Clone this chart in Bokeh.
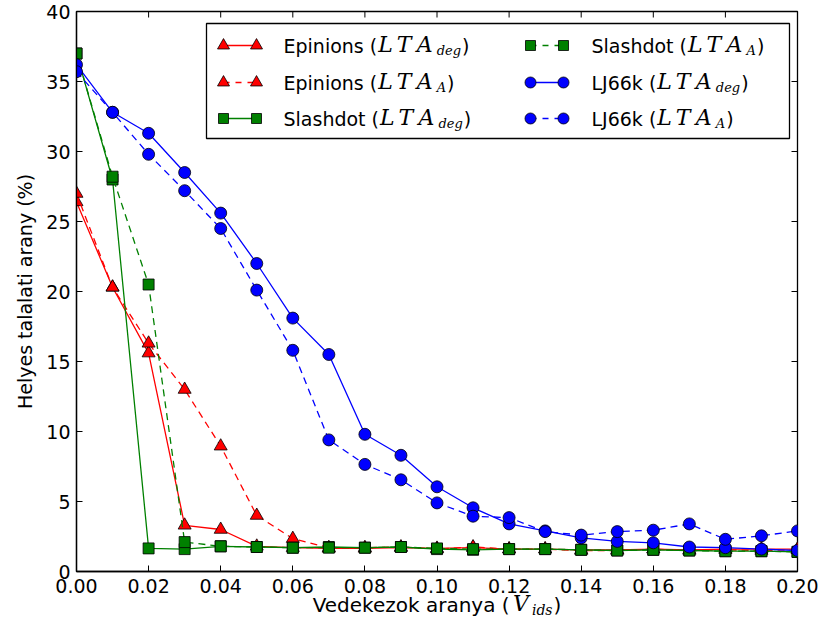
from bokeh.plotting import figure
from bokeh.models import FixedTicker, PrintfTickFormatter, Range1d
from bokeh.layouts import column
from bokeh.core.properties import value
from bokeh.embed import file_html
from bokeh.resources import INLINE

# ---- data -------------------------------------------------------------
ratio = [0.00, 0.01, 0.02, 0.03, 0.04, 0.05, 0.06, 0.07, 0.08, 0.09, 0.10,
         0.11, 0.12, 0.13, 0.14, 0.15, 0.16, 0.17, 0.18, 0.19, 0.20]

epinions_deg = [26.4, 20.3, 15.6, 3.3, 3.0, 1.8, 1.7, 1.65, 1.65, 1.7, 1.65,
                1.7, 1.6, 1.6, 1.55, 1.55, 1.6, 1.55, 1.6, 1.6, 1.6]
epinions_a = [27.0, 20.3, 16.3, 13.0, 8.95, 4.0, 2.35, 1.7, 1.7, 1.75, 1.6,
              1.75, 1.6, 1.6, 1.5, 1.5, 1.6, 1.5, 1.55, 1.5, 1.55]
slashdot_deg = [37.0, 28.0, 1.65, 1.6, 1.8, 1.75, 1.7, 1.75, 1.7, 1.75, 1.6,
                1.55, 1.6, 1.6, 1.55, 1.5, 1.55, 1.5, 1.45, 1.45, 1.4]
slashdot_a = [37.0, 28.2, 20.5, 2.1, 1.8, 1.75, 1.7, 1.7, 1.7, 1.75, 1.65,
              1.6, 1.6, 1.6, 1.55, 1.5, 1.55, 1.5, 1.45, 1.45, 1.4]
lj66k_deg = [36.2, 32.8, 31.3, 28.5, 25.6, 22.0, 18.1, 15.5, 9.8, 8.3, 6.05,
             4.55, 3.4, 2.9, 2.4, 2.15, 2.05, 1.75, 1.7, 1.6, 1.5]
lj66k_a = [35.7, 32.8, 29.8, 27.2, 24.5, 20.1, 15.8, 9.4, 7.65, 6.55, 4.9,
           3.95, 3.85, 2.85, 2.6, 2.85, 2.95, 3.4, 2.3, 2.55, 2.9]

x_ticks = [0.00, 0.02, 0.04, 0.06, 0.08, 0.10, 0.12, 0.14, 0.16, 0.18, 0.20]
y_ticks = [0, 5, 10, 15, 20, 25, 30, 35, 40]

series = [
    # name, math subscript, values, colour, marker, dashed
    ("Epinions", "deg", epinions_deg, "#ff0000", "triangle", False),
    ("Epinions", "A", epinions_a, "#ff0000", "triangle", True),
    ("Slashdot", "deg", slashdot_deg, "#008000", "square", False),
    ("Slashdot", "A", slashdot_a, "#008000", "square", True),
    ("LJ66k", "deg", lj66k_deg, "#0000ff", "circle", False),
    ("LJ66k", "A", lj66k_a, "#0000ff", "circle", True),
]

# ---- layout -----------------------------------------------------------
W = 825
PLOT_H = 601
LABEL_H, LABEL_OVERLAP = 51, 13         # title strip pulled up under the axis
LEFT, RIGHT, TOP, BOTTOM = 76, 28, 11, 30
FW, FH = W - LEFT - RIGHT, PLOT_H - TOP - BOTTOM
X0, X1, Y0, Y1 = 0.0, 0.2, 0.0, 40.0

FONT = "DejaVu Sans"
MATH = "DejaVu Serif"
FS = 19
DASH = "7 5"
LW = 1.3
TICK = 6
MARKER_SIZE = {"triangle": 13, "square": 11, "circle": 12}

# text run styles: (sans size, italic size, subscript size)
LEGEND_STYLE = (19, 22, 13)
XLABEL_STYLE = (20, 22, 14)
# advances of the italic capitals in the math runs, px
MATH_ADV = {"L": 18.5, "T": 20, "A": 22, "V": 21}

# approximate advance widths (em) used to lay out mixed text runs
SANS_W = {" ": .318, "(": .390, ")": .390, "E": .632, "p": .635, "i": .278,
          "n": .634, "o": .612, "s": .521, "S": .635, "l": .278, "a": .613,
          "h": .634, "d": .635, "t": .392, "L": .557, "J": .295, "6": .636,
          "k": .579, "V": .684, "e": .615, "z": .525, "r": .411, "y": .592}
SUB_W = {"d": .640, "e": .592, "g": .640, "i": .320, "s": .513, "A": .722}


def sans_width(s, size):
    return sum(SANS_W.get(c, .6) for c in s) * size


def sub_width(s, size):
    return sum(SUB_W.get(c, .6) for c in s) * size


def dx(px):
    return X0 + (px - LEFT) / FW * (X1 - X0)


def dy(py):
    return Y1 - (py - TOP) / FH * (Y1 - Y0)


def run_width(prefix, main, sub, style):
    fs, _, sfs = style
    return (sans_width(prefix, fs) + sum(MATH_ADV[c] for c in main)
            + sub_width(sub, sfs) + sans_width(")", fs))


def math_run(fig, fx, fy, x_px, y_px, prefix, main, sub, style):
    """Sans-serif prefix, italic capitals with an italic subscript, ')'."""
    fs, mfs, sfs = style
    pieces = []
    x = x_px
    pieces.append((x, 0, prefix, FONT, "normal", fs))
    x += sans_width(prefix, fs)
    for ch in main:
        pieces.append((x + 1, -1, ch, MATH, "italic", mfs))
        x += MATH_ADV[ch]
    pieces.append((x - 1, 5, sub, MATH, "italic", sfs))
    x += sub_width(sub, sfs)
    pieces.append((x, 0, ")", FONT, "normal", fs))
    for xp, shift, txt, font, style_, size in pieces:
        fig.text(x=[fx(xp)], y=[fy(y_px + shift)], text=[txt],
                 text_font=value(font), text_font_style=style_,
                 text_font_size=value(f"{size}px"), text_color="black",
                 text_baseline="middle", text_align="left")


# ---- main plot --------------------------------------------------------
p = figure(width=W, height=PLOT_H, x_range=Range1d(X0, X1),
           y_range=Range1d(Y0, Y1), output_backend="svg",
           toolbar_location=None,
           min_border_left=LEFT, min_border_right=RIGHT,
           min_border_top=TOP, min_border_bottom=BOTTOM)
p.grid.visible = False
p.background_fill_color = "white"
p.border_fill_color = "white"
p.outline_line_color = "black"
p.outline_line_width = LW

p.xaxis.ticker = FixedTicker(ticks=x_ticks)
p.xaxis.formatter = PrintfTickFormatter(format="%.2f")
p.yaxis.ticker = FixedTicker(ticks=y_ticks)
for ax in (p.xaxis[0], p.yaxis[0]):
    ax.major_tick_in = TICK
    ax.major_tick_out = 0
    ax.minor_tick_in = 0
    ax.minor_tick_out = 0
    ax.axis_line_color = "black"
    ax.axis_line_width = LW
    ax.major_tick_line_color = "black"
    ax.major_tick_line_width = 1
    ax.major_label_text_font = FONT
    ax.major_label_text_font_size = f"{FS}px"
    ax.major_label_text_color = "black"
p.xaxis.major_label_standoff = 7
p.yaxis.major_label_standoff = 6

p.yaxis.axis_label = "Helyes talalati arany (%)"
p.yaxis.axis_label_text_font = FONT
p.yaxis.axis_label_text_font_style = "normal"
p.yaxis.axis_label_text_font_size = f"{FS}px"
p.yaxis.axis_label_text_color = "black"
p.yaxis.axis_label_standoff = 7

# inward ticks mirrored on the top and right edges
tick_dy = TICK / FH * (Y1 - Y0)
tick_dx = TICK / FW * (X1 - X0)
p.segment(x0=x_ticks, y0=[Y1] * len(x_ticks), x1=x_ticks,
          y1=[Y1 - tick_dy] * len(x_ticks), line_color="black", line_width=1)
p.segment(x0=[X1] * len(y_ticks), y0=y_ticks, x1=[X1 - tick_dx] * len(y_ticks),
          y1=y_ticks, line_color="black", line_width=1)

# ---- data series ------------------------------------------------------
for name, sub, vals, color, marker, dashed in series:
    p.line(ratio, vals, line_color=color, line_width=LW,
           line_dash=DASH if dashed else "solid")
    p.scatter(ratio, vals, marker=marker, size=MARKER_SIZE[marker],
              fill_color=color, line_color="black", line_width=0.8)

# ---- legend -----------------------------------------------------------
BOX = (206, 789, 23, 138)
p.quad(left=dx(BOX[0]), right=dx(BOX[1]), top=dy(BOX[2]), bottom=dy(BOX[3]),
       fill_color="white", line_color="black", line_width=LW)

ROWS = [45, 82, 118]
COLS = [(223, 256, 283), (530, 563, 591)]

for i, (name, sub, vals, color, marker, dashed) in enumerate(series):
    col, row = divmod(i, 3)
    m0, m1, tx = COLS[col]
    yy = dy(ROWS[row])
    p.line([dx(m0), dx(m1)], [yy, yy], line_color=color, line_width=LW,
           line_dash="6 6" if dashed else "solid")
    p.scatter([dx(m0), dx(m1)], [yy, yy], marker=marker,
              size=MARKER_SIZE[marker] - 1, fill_color=color,
              line_color="black", line_width=0.8)
    math_run(p, dx, dy, tx, ROWS[row], name + " (", "LTA", sub, LEGEND_STYLE)

# ---- x axis title, on a transparent strip tucked under the plot --------
q = figure(width=W, height=LABEL_H, x_range=p.x_range,
           y_range=Range1d(LABEL_H, 0), output_backend="svg",
           toolbar_location=None, x_axis_type=None, y_axis_type=None,
           min_border_left=LEFT, min_border_right=RIGHT,
           min_border_top=0, min_border_bottom=0,
           margin=(-LABEL_OVERLAP, 0, 0, 0))
q.grid.visible = False
q.outline_line_color = None
q.background_fill_color = None
q.border_fill_color = None

XL_CENTER_Y = 604 - (PLOT_H - LABEL_OVERLAP)
xl_prefix = "Vedekezok aranya ("
xl_w = run_width(xl_prefix, "V", "ids", XLABEL_STYLE)
math_run(q, dx, lambda v: v, LEFT + FW / 2 - xl_w / 2, XL_CENTER_Y,
         xl_prefix, "V", "ids", XLABEL_STYLE)

layout = column(p, q, spacing=0)
open("out.html", "w").write(file_html(layout, INLINE))
